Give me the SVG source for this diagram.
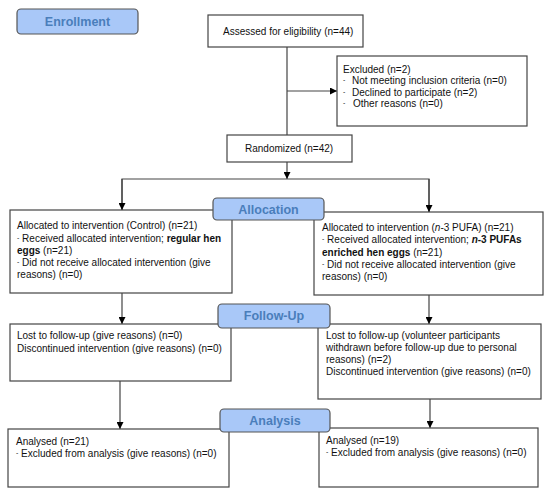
<svg xmlns="http://www.w3.org/2000/svg" width="550" height="501" viewBox="0 0 550 501">
<defs>
<marker id="ah" viewBox="0 0 10 10" refX="10" refY="5" markerWidth="7" markerHeight="7" markerUnits="userSpaceOnUse" orient="auto">
<path d="M0,0 L10,5 L0,10 Z" fill="#000"/>
</marker>
<style>
.box{fill:#fff;stroke:#444;stroke-width:1.2}
.lab{fill:#a9c8f8;stroke:#555;stroke-width:1.2}
.lt{font-family:"Liberation Sans",Arial,sans-serif;font-size:12.5px;font-weight:bold;fill:#4a7ebb;text-anchor:middle}
.t{font-family:"Liberation Sans",Arial,sans-serif;font-size:10px;fill:#111}
.d{font-size:7px}
.c{fill:none;stroke:#444;stroke-width:1.2}
</style>
</defs>
<rect width="550" height="501" fill="#fff"/>
<g id="connectors">
<line class="c" x1="287" y1="47" x2="287" y2="135"/>
<line class="c" x1="287" y1="91" x2="337" y2="91" marker-end="url(#ah)"/>
<line class="c" x1="287" y1="162" x2="287" y2="179" marker-end="url(#ah)"/>
<polyline class="c" points="122,210 122,179 429,179 429,212"/>
<line class="c" x1="122" y1="179" x2="122" y2="210" marker-end="url(#ah)"/>
<line class="c" x1="429" y1="179" x2="429" y2="212" marker-end="url(#ah)"/>
<line class="c" x1="122" y1="293" x2="122" y2="324" marker-end="url(#ah)"/>
<line class="c" x1="429" y1="295" x2="429" y2="324" marker-end="url(#ah)"/>
<line class="c" x1="120" y1="381" x2="120" y2="429" marker-end="url(#ah)"/>
<line class="c" x1="430" y1="399" x2="430" y2="428" marker-end="url(#ah)"/>
</g>
<g id="enrollment">
<rect class="lab" x="17" y="9" width="121" height="25" rx="4"/>
<text class="lt" x="77.5" y="26">Enrollment</text>
</g>
<g id="assessed">
<rect class="box" x="208" y="15" width="155" height="32"/>
<text class="t" x="223" y="35">Assessed for eligibility (n=44)</text>
</g>
<g id="excluded">
<rect class="box" x="337" y="56" width="190" height="70"/>
<text class="t" x="343" y="73">Excluded (n=2)</text>
<text class="t" x="343" y="84"><tspan class="d" dy="-2">-</tspan><tspan x="352" dy="2">Not  meeting  inclusion criteria (n=0)</tspan></text>
<text class="t" x="343" y="96"><tspan class="d" dy="-2">-</tspan><tspan x="352" dy="2">Declined  to participate  (n=2)</tspan></text>
<text class="t" x="343" y="107"><tspan class="d" dy="-2">-</tspan><tspan x="353" dy="2">Other  reasons  (n=0)</tspan></text>
</g>
<g id="randomized">
<rect class="box" x="227" y="135" width="125" height="27"/>
<text class="t" x="245" y="152">Randomized  (n=42)</text>
</g>
<g id="alloc-control">
<rect class="box" x="10" y="210" width="222" height="83"/>
<text class="t" x="17" y="229">Allocated to intervention  (Control)  (n=21)</text>
<text class="t" x="17" y="242"><tspan class="d" dy="-2">-</tspan><tspan dy="2"> Received  allocated  intervention;  </tspan><tspan font-weight="bold">regular hen</tspan></text>
<text class="t" x="17" y="254"><tspan font-weight="bold">eggs</tspan> (n=21)</text>
<text class="t" x="17" y="266"><tspan class="d" dy="-2">-</tspan><tspan dy="2"> Did not receive  allocated intervention  (give</tspan></text>
<text class="t" x="17" y="278">reasons) (n=0)</text>
</g>
<g id="alloc-pufa">
<rect class="box" x="314" y="212" width="229" height="83"/>
<text class="t" x="322" y="231">Allocated to intervention  (<tspan font-style="italic">n</tspan>-3 PUFA) (n=21)</text>
<text class="t" x="322" y="243"><tspan class="d" dy="-2">-</tspan><tspan dy="2"> Received  allocated  intervention;  </tspan><tspan font-weight="bold"><tspan font-style="italic">n</tspan>-3 PUFAs</tspan></text>
<text class="t" x="322" y="256"><tspan font-weight="bold">enriched hen eggs</tspan> (n=21)</text>
<text class="t" x="322" y="268"><tspan class="d" dy="-2">-</tspan><tspan dy="2"> Did not receive  allocated intervention  (give</tspan></text>
<text class="t" x="322" y="280">reasons) (n=0)</text>
</g>
<g id="allocation">
<rect class="lab" x="213" y="198" width="111" height="22" rx="4"/>
<text class="lt" x="268.5" y="214">Allocation</text>
</g>
<g id="followup-control">
<rect class="box" x="10" y="324" width="221" height="57"/>
<text class="t" x="17" y="339">Lost to follow-up  (give  reasons) (n=0)</text>
<text class="t" x="17" y="352">Discontinued intervention  (give  reasons) (n=0)</text>
</g>
<g id="followup-pufa">
<rect class="box" x="318" y="324" width="223" height="75"/>
<text class="t" x="326" y="339">Lost to follow-up  (volunteer  participants</text>
<text class="t" x="326" y="351">withdrawn  before  follow-up due to personal</text>
<text class="t" x="326" y="363">reasons) (n=2)</text>
<text class="t" x="326" y="375">Discontinued intervention  (give  reasons) (n=0)</text>
</g>
<g id="followup">
<rect class="lab" x="218" y="304" width="112" height="24" rx="4"/>
<text class="lt" x="274" y="320">Follow-Up</text>
</g>
<g id="analysed-control">
<rect class="box" x="8" y="429" width="221" height="58"/>
<text class="t" x="16" y="445">Analysed  (n=21)</text>
<text class="t" x="16" y="457"><tspan class="d" dy="-2">-</tspan><tspan dy="2"> Excluded  from  analysis (give  reasons)  (n=0)</tspan></text>
</g>
<g id="analysed-pufa">
<rect class="box" x="319" y="428" width="219" height="59"/>
<text class="t" x="326" y="444">Analysed  (n=19)</text>
<text class="t" x="326" y="456"><tspan class="d" dy="-2">-</tspan><tspan dy="2"> Excluded  from  analysis (give  reasons)  (n=0)</tspan></text>
</g>
<g id="analysis">
<rect class="lab" x="220" y="409" width="110" height="23" rx="4"/>
<text class="lt" x="275" y="425">Analysis</text>
</g>
</svg>
